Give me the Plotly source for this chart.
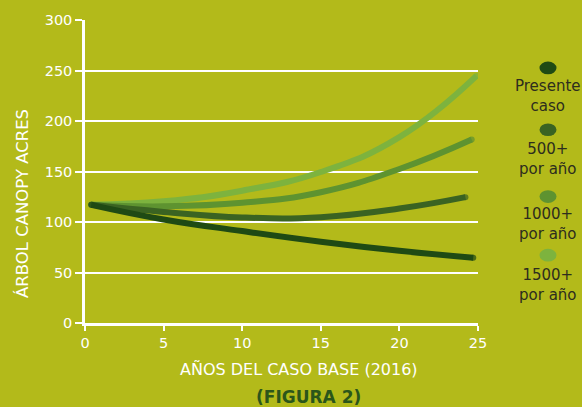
import plotly.graph_objects as go

present_x = [0.4, 5, 10, 15, 20, 24.7]
present = [117, 102.5, 91, 80.5, 71.5, 64.5]
y500_x = [0.4, 5, 10, 15, 20, 24.2]
y500 = [117, 110, 104.5, 104.8, 113.3, 124.6]
y1000_x = [0.4, 5, 10, 15, 20, 24.6]
y1000 = [117, 115.5, 119, 129.5, 152.5, 181.7]
y1500_x = [0.4, 5, 10, 15, 20, 24.9]
y1500 = [117, 120.5, 131, 149.5, 184, 244.6]

names = ["Presente<br>caso", "500+<br>por año", "1000+<br>por año", "1500+<br>por año"]
colors = ["#1F4A14", "#3A6322", "#5E9330", "#7DB33E"]

xticks = [0, 5, 10, 15, 20, 25]
yticks = [0, 50, 100, 150, 200, 250, 300]

BG = "#B3BA1A"
FONT = "DejaVu Sans, sans-serif"
fig = go.Figure()
series = [(present_x, present), (y500_x, y500), (y1000_x, y1000), (y1500_x, y1500)]
order = [3, 2, 1, 0]
LW = 6
for i in order:
    xs, ys = series[i]
    sizes = [LW] + [0] * (len(xs) - 2) + [LW]
    fig.add_trace(go.Scatter(x=xs, y=ys, mode="lines+markers",
                             line=dict(color=colors[i], width=LW, shape="spline", smoothing=1.3),
                             marker=dict(size=sizes, color=colors[i], line=dict(width=0)),
                             showlegend=False, hoverinfo="skip"))

W, H = 582, 407
l, r, t, b = 85, 104, 12.7, 84.3
PW, PH = W - l - r, H - t - b

fig.update_layout(
    width=W, height=H,
    margin=dict(l=l, r=r, t=t, b=b, pad=0),
    paper_bgcolor=BG, plot_bgcolor=BG,
    font=dict(family=FONT, color="white", size=14),
    xaxis=dict(range=[0, 25], tickvals=xticks, showgrid=False, zeroline=False,
               showline=True, linecolor="white", linewidth=2.5,
               ticks="outside", ticklen=5, tickwidth=2, tickcolor="white",
               tickfont=dict(family=FONT, size=14.5, color="white")),
    yaxis=dict(range=[0, 300], tickvals=yticks, showgrid=True, gridcolor="white", gridwidth=1.5,
               zeroline=False, showline=True, linecolor="white", linewidth=2.5,
               ticks="outside", ticklen=7, tickwidth=2, tickcolor="white",
               tickfont=dict(family=FONT, size=14.5, color="white")),
)

def px(xpx):
    return (xpx - l) / PW

def py(ypx):
    return (H - b - ypx) / PH

annos = [
    dict(text="ÁRBOL CANOPY ACRES", x=px(22), y=py(201), textangle=-90,
         font=dict(family=FONT, size=16.5, color="white")),
    dict(text="AÑOS DEL CASO BASE (2016)", x=px(299), y=py(370),
         font=dict(family=FONT, size=16, color="white")),
    dict(text="<b>(FIGURA 2)</b>", x=px(308), y=py(398),
         font=dict(family=FONT, size=17, color="#2B561A")),
]
for a in annos:
    a.update(xref="paper", yref="paper", showarrow=False, xanchor="center", yanchor="middle")
    fig.add_annotation(**a)

dot_y = [61.7, 125, 193.3, 253.3]
text_y = [90, 155, 221, 283.5]
for i in range(4):
    cx, cy = 548, dot_y[i]
    fig.add_shape(type="circle", xref="paper", yref="paper",
                  x0=px(cx - 8.5), x1=px(cx + 8.5), y0=py(cy + 6.5), y1=py(cy - 6.5),
                  fillcolor=colors[i], line=dict(width=0))
    fig.add_annotation(text=names[i], x=px(cx), y=py(text_y[i]), xref="paper", yref="paper",
                       showarrow=False, xanchor="center", yanchor="middle",
                       font=dict(family=FONT, size=15, color="#2d2d1e"))

fig.write_html("out.html", config={"displayModeBar": False})
with open("out.html", "r", encoding="utf-8") as f:
    html = f.read()
html = html.replace("<body>", '<body style="margin:0;padding:0;overflow:hidden;">', 1)
with open("out.html", "w", encoding="utf-8") as f:
    f.write(html)
